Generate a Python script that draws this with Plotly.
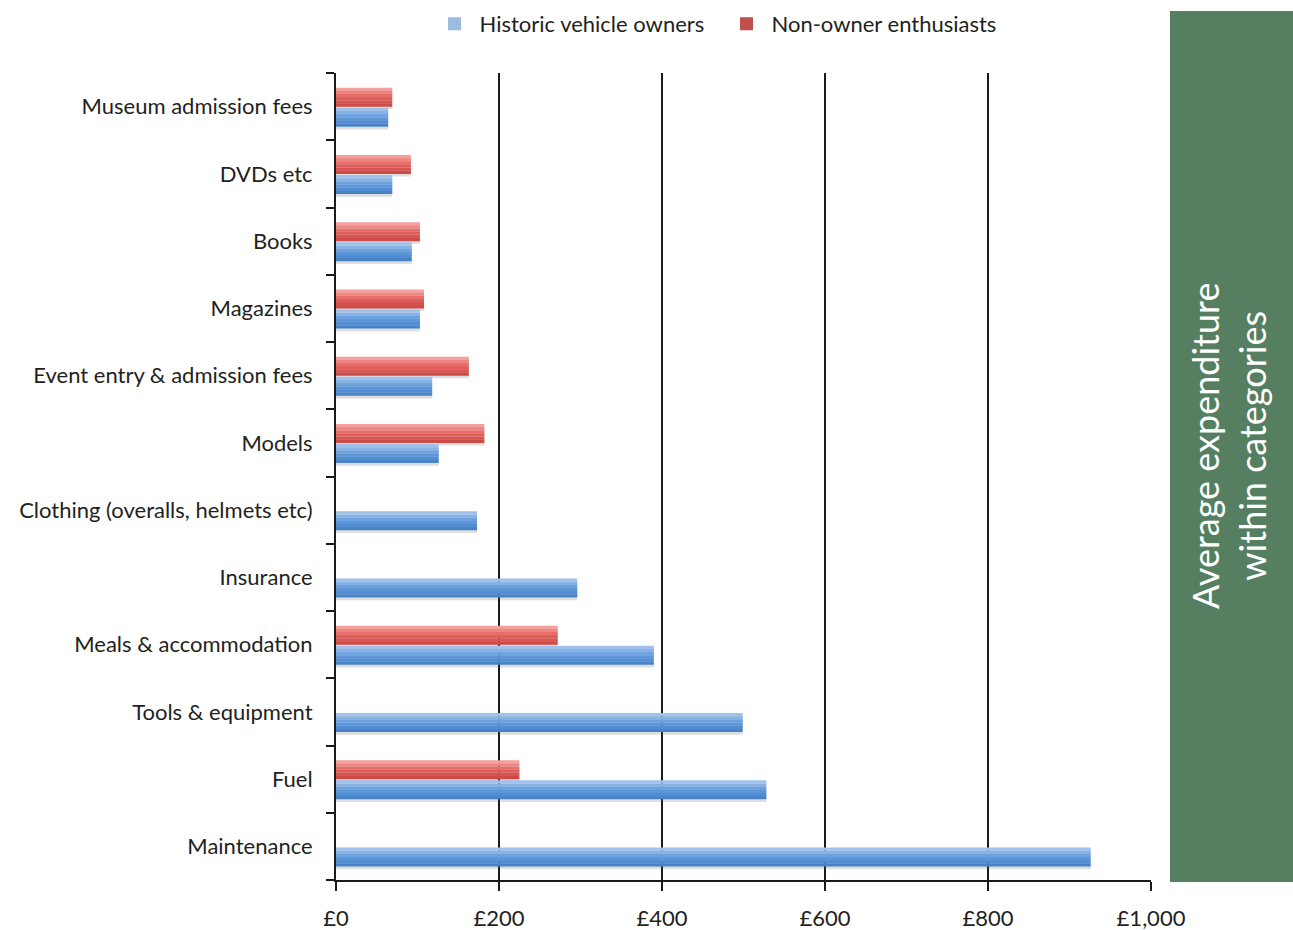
import plotly.graph_objects as go

# Categories listed bottom to top
categories = [
    "Maintenance",
    "Fuel",
    "Tools & equipment",
    "Meals & accommodation",
    "Insurance",
    "Clothing (overalls, helmets etc)",
    "Models",
    "Event entry & admission fees",
    "Magazines",
    "Books",
    "DVDs etc",
    "Museum admission fees",
]
owners = [926, 528, 499, 390, 296, 173, 126, 118, 103, 93, 69, 64]
enthusiasts = [None, 225, None, 272, None, None, 182, 163, 108, 103, 92, 69]

x_ticks = [0, 200, 400, 600, 800, 1000]
x_tick_labels = ["£0", "£200", "£400", "£600", "£800", "£1,000"]

FONT = "Lato"
TEXT = "#231f20"
BAR_W = 0.28

# shading bands for each series, listed bottom to top
blue_shades = ["#4883c8", "#528cd1", "#5d96d8", "#6ea2de", "#86b2e6", "#9fc1eb"]
red_shades = ["#cc4b47", "#d75450", "#e05e59", "#e76e69", "#ee8581", "#f4a19d"]

series = [
    ("Historic vehicle owners", owners, -0.30, blue_shades),
    ("Non-owner enthusiasts", enthusiasts, 0.0, red_shades),
]

fig = go.Figure()

# soft drop shadow under each bar
for name, vals, off, _ in series:
    fig.add_trace(go.Bar(
        y=categories, x=vals, orientation="h", offset=off - 0.04, width=BAR_W,
        marker=dict(color="rgba(90,90,90,0.2)", line=dict(width=0)),
        showlegend=False, hoverinfo="skip",
    ))

# bars, shaded in horizontal bands from dark (bottom) to light (top)
for name, vals, off, shades in series:
    n = len(shades)
    band = BAR_W / n
    for k, col in enumerate(shades):
        fig.add_trace(go.Bar(
            y=categories, x=vals, orientation="h",
            offset=off + band * k, width=band * 1.05,
            marker=dict(color=col, line=dict(width=0)),
            name=name, showlegend=False,
            hoverinfo="x+y" if k == n // 2 else "skip",
        ))

# legend swatches
fig.add_trace(go.Scatter(x=[None], y=[None], mode="markers", name="Historic vehicle owners",
                         marker=dict(symbol="square", size=13, color="#9dbae0"), showlegend=True))
fig.add_trace(go.Scatter(x=[None], y=[None], mode="markers", name="Non-owner enthusiasts",
                         marker=dict(symbol="square", size=13, color="#c0504d"), showlegend=True))

fig.update_layout(
    width=1293, height=930,
    margin=dict(l=336, r=142, t=73, b=50, autoexpand=False),
    paper_bgcolor="white", plot_bgcolor="white",
    barmode="overlay",
    font=dict(family=FONT, size=22, color=TEXT),
    legend=dict(orientation="h", xref="container", yref="container",
                x=0.558, xanchor="center", y=1 - 24 / 930, yanchor="middle",
                font=dict(size=22, color=TEXT), itemwidth=40, entrywidth=237,
                traceorder="normal", bgcolor="rgba(0,0,0,0)"),
    xaxis=dict(
        range=[0, 1000], tickvals=x_ticks, ticktext=x_tick_labels,
        showgrid=True, gridcolor="#1a1a1a", gridwidth=2,
        showline=True, linecolor="#1a1a1a", linewidth=2,
        ticks="outside", ticklen=9, tickwidth=2, tickcolor="#1a1a1a",
        ticklabelstandoff=9, zeroline=False, fixedrange=True,
    ),
    yaxis=dict(
        categoryorder="array", categoryarray=categories,
        showline=True, linecolor="#1a1a1a", linewidth=2,
        ticks="outside", ticklen=8, tickwidth=2, tickcolor="#1a1a1a",
        tickson="boundaries", showgrid=False, ticklabelstandoff=17,
        fixedrange=True,
    ),
    shapes=[dict(
        type="rect", xref="paper", yref="paper",
        x0=1.0233, x1=1.18, y0=-0.0025, y1=1.0768,
        fillcolor="#557f60", line=dict(width=0), layer="above",
    )],
    annotations=[dict(
        xref="paper", yref="paper", x=1.096, y=0.538,
        text="Average expenditure<br>within categories", textangle=-90,
        showarrow=False, font=dict(family=FONT, size=36, color="white"),
        xanchor="center", yanchor="middle",
    )],
)

fig.write_html("out.html")
